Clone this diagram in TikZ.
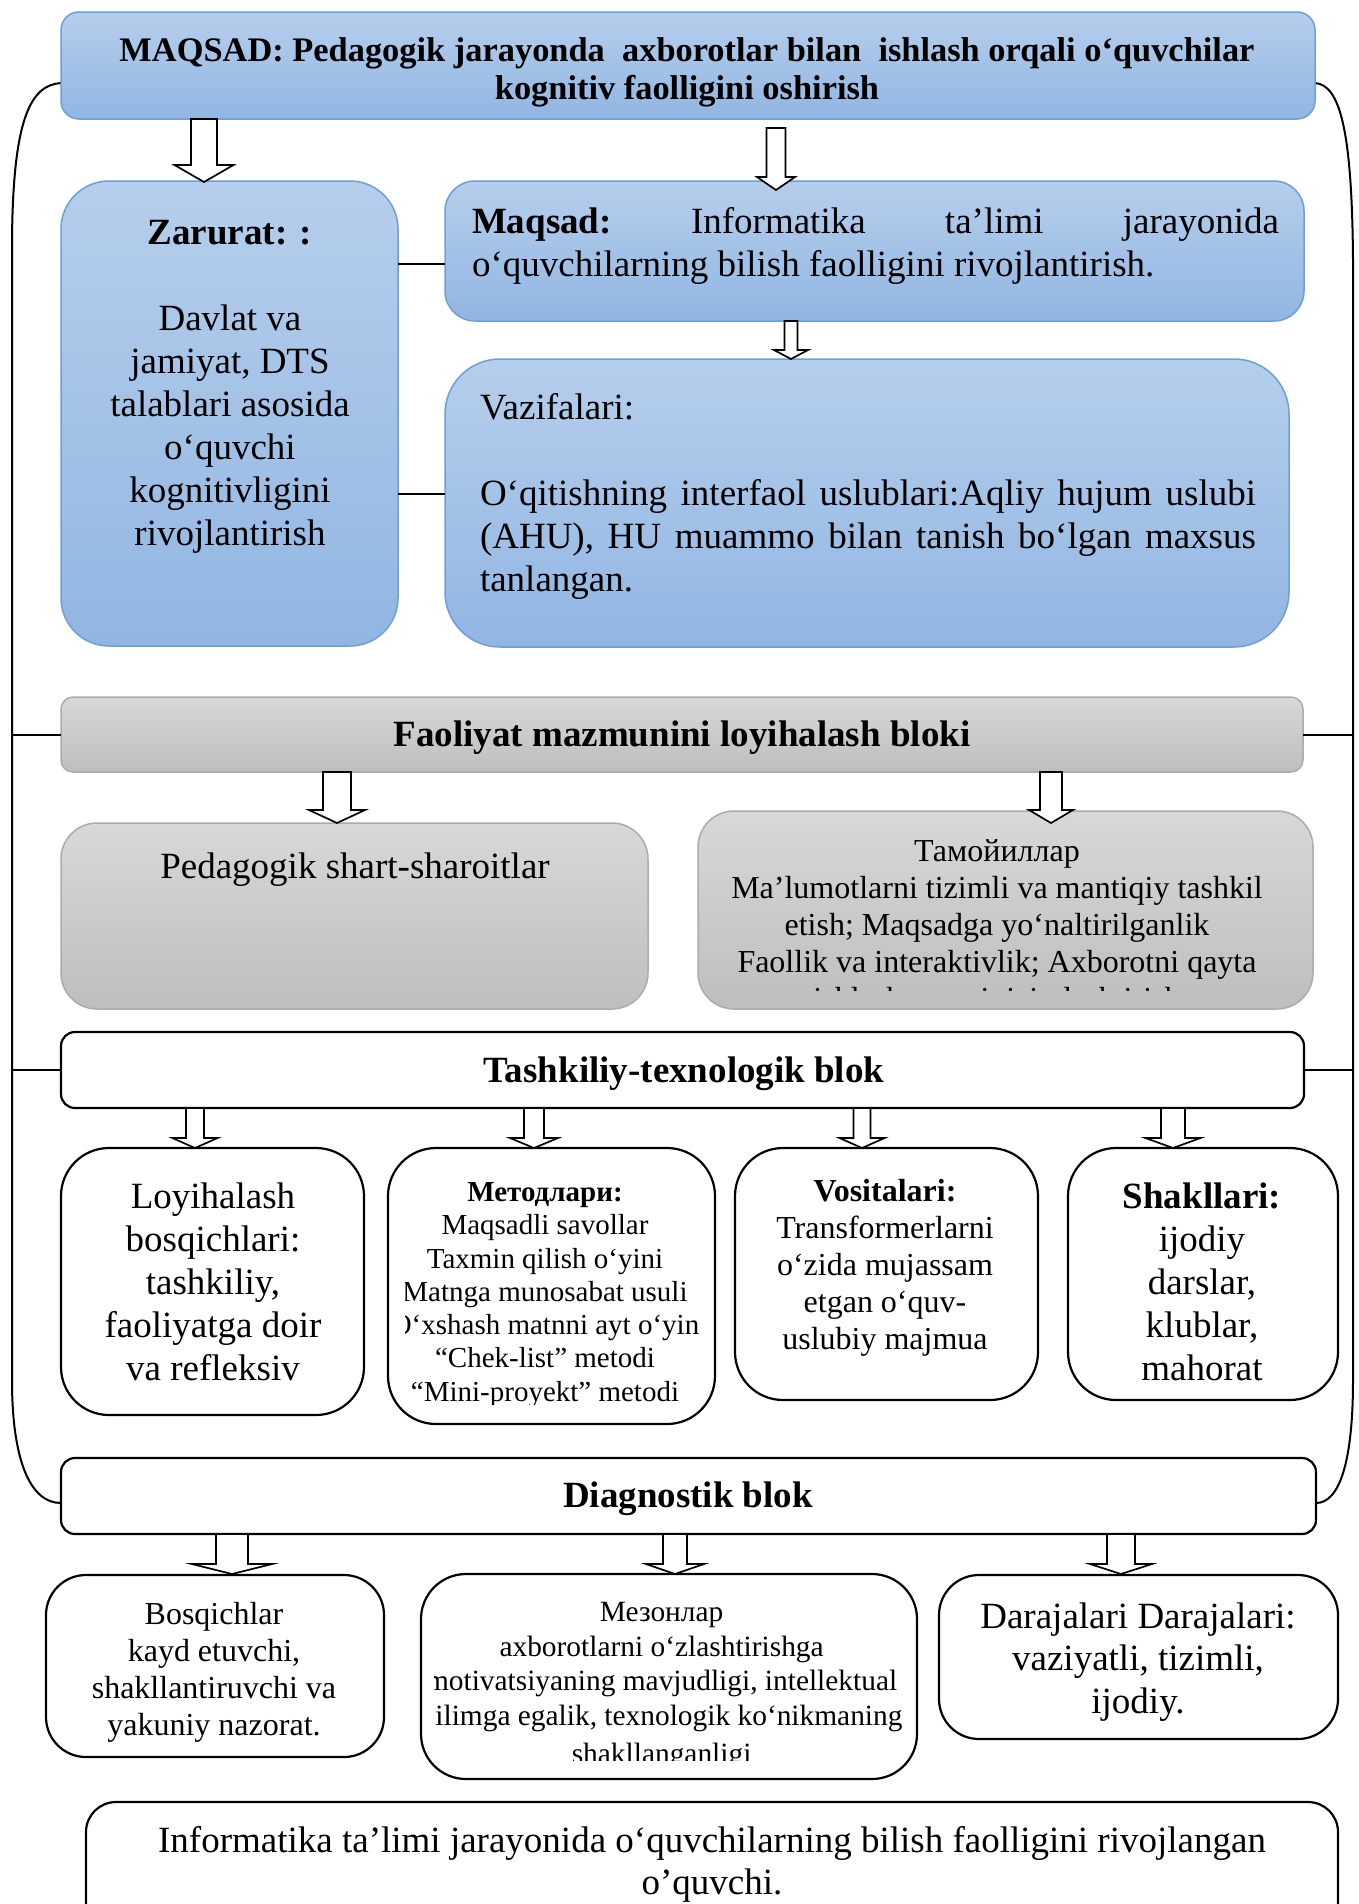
\documentclass[tikz,border=0pt]{standalone}
\usepackage{fontspec}
\setmainfont{Liberation Serif}
\usetikzlibrary{calc}
\definecolor{bluetop}{RGB}{182,206,236}
\definecolor{bluebot}{RGB}{145,182,226}
\definecolor{blueline}{RGB}{108,160,216}
\definecolor{graytop}{RGB}{216,216,216}
\definecolor{graybot}{RGB}{190,190,190}
\definecolor{grayline}{RGB}{172,172,172}
\tikzset{
 box/.style={rectangle, inner sep=0pt, outer sep=0pt},
 bluebox/.style={box, draw=blueline, line width=1.5pt, top color=bluetop, bottom color=bluebot},
 graybox/.style={box, draw=grayline, line width=1.5pt, top color=graytop, bottom color=graybot},
 whitebox/.style={box, draw=black, line width=2.2pt, fill=white},
 txt/.style={inner sep=0pt, outer sep=0pt, align=center},
 ltxt/.style={inner sep=0pt, outer sep=0pt, anchor=base west},
 barrow/.style={draw=black, fill=white, line width=1.7pt, line join=miter},
 frameline/.style={draw=black, line width=2pt},
 conn/.style={draw=black, line width=2.6pt},
}
\newcommand\fs[2]{\fontsize{#1pt}{#2pt}\selectfont}
% box: style, name, x1, y1, x2, y2, radius
\newcommand\mkbox[7]{\node[#1, rounded corners=#7pt, minimum width={#5pt-#3pt}, minimum height={#6pt-#4pt}] (#2) at ({(#3+#5)/2},{(#4+#6)/2}) {};}
% block arrow: cx, y0, yhead, ytip, shaft half, head half
\newcommand\blockarrow[6]{\draw[barrow] ({#1-#5},#2) -- ({#1-#5},#3) -- ({#1-#6},#3) -- (#1,#4) -- ({#1+#6},#3) -- ({#1+#5},#3) -- ({#1+#5},#2) -- cycle;}
\begin{document}
\begin{tikzpicture}[x=1pt,y=-1pt]
\useasboundingbox (0,0) rectangle (1359,1904);
\fill[white] (0,0) rectangle (1359,1904);
\clip (0,0) rectangle (1359,1904);

% outer frame
\coordinate (ftl) at (61,83);
\coordinate (fbl) at (61,1503);
\coordinate (ftr) at (1315,83);
\coordinate (fbr) at (1316,1503);
\coordinate (frL) at (12,0);
\coordinate (frR) at (1353,0);
\draw[frameline] (ftl) .. controls (30,85) and (13,120) .. (12,240) -- (12,1380) .. controls (12,1460) and (30,1503) .. (fbl);
\draw[frameline] (ftr) .. controls (1340,85) and (1352,130) .. (1353,260) -- (1353,1380) .. controls (1353,1460) and (1340,1503) .. (fbr);

% top goal
\mkbox{bluebox}{maq}{61}{12}{1315}{119}{18}
\node[txt, font=\fs{34.4}{38}\bfseries] (maq-t) at (687,72) {MAQSAD: Pedagogik jarayonda~ axborotlar bilan~ ishlash orqali o‘quvchilar\\kognitiv faolligini oshirish};

% Zarurat
\mkbox{bluebox}{zar}{61}{181}{398}{646}{48}
\node[txt, font=\fs{37}{43}] (zar-t) at (230,386.4) {\textbf{Zarurat: :}\\[43pt]Davlat va\\jamiyat, DTS\\talablari asosida\\o‘quvchi\\kognitivligini\\rivojlantirish};

% Maqsad
\mkbox{bluebox}{maqb}{445}{181}{1304}{321}{30}
\node[ltxt, font=\fs{37}{43}] (maqb-l1) at (472,233.2) {\hbox to 807pt{\textbf{Maqsad:}\hfill Informatika\hfill ta’limi\hfill jarayonida}};
\node[ltxt, font=\fs{37}{43}] (maqb-l2) at (472,276.2) {o‘quvchilarning bilish faolligini rivojlantirish.};

% Vazifalari
\mkbox{bluebox}{vaz}{445}{359}{1289}{647}{55}
\node[ltxt, font=\fs{37}{43}] (vaz-l1) at (480,419.2) {Vazifalari:};
\node[ltxt, font=\fs{37}{43}] (vaz-l2) at (480,505.2) {\hbox to 776pt{O‘qitishning\hfill interfaol\hfill uslublari:Aqliy\hfill hujum\hfill uslubi}};
\node[ltxt, font=\fs{37}{43}] (vaz-l3) at (480,548.2) {\hbox to 776pt{(AHU),\hfill HU\hfill muammo\hfill bilan\hfill tanish\hfill bo‘lgan\hfill maxsus}};
\node[ltxt, font=\fs{37}{43}] (vaz-l4) at (480,591.2) {tanlangan.};

\coordinate (c1) at (0,264);
\coordinate (c2) at (0,494);
\draw[conn] (zar.east |- c1) -- (maqb.west |- c1);
\draw[conn] (zar.east |- c2) -- (vaz.west |- c2);

% arrows from top
\blockarrow{204}{119}{165}{182}{13}{29.5}
\blockarrow{776}{128}{177}{190}{9.5}{19}
\blockarrow{791}{321}{350}{359}{6.5}{17}

% Faoliyat block
\mkbox{graybox}{fao}{61}{697}{1303}{772}{12}
\node[txt, font=\fs{37}{43}\bfseries] (fao-t) at (682,737.6) {Faoliyat mazmunini loyihalash bloki};
\draw[frameline] (fao.west -| frL) -- (fao.west);
\draw[frameline] (fao.east) -- (fao.east -| frR);

\mkbox{graybox}{ped}{61}{823}{648}{1009}{36}
\node[txt, font=\fs{37}{43}] (ped-t) at (355,869.6) {Pedagogik shart-sharoitlar};

\mkbox{graybox}{tam}{698}{811}{1313}{1009}{36}
\begin{scope}
\clip (714,811) rectangle (1297,990);
\node[txt, font=\fs{32}{37}] (tam-t) at (997,924.7) {Тамойиллар\\Ma’lumotlarni tizimli va mantiqiy tashkil\\etish; Maqsadga yo‘naltirilganlik\\Faollik va interaktivlik; Axborotni qayta\\ishlash va uni tizimlashtirish};
\end{scope}

\blockarrow{337}{772}{810}{823}{14}{28}
\blockarrow{1051}{772}{810}{823}{11}{22}

% Tashkiliy-texnologik block
\mkbox{whitebox}{tash}{61}{1032}{1304}{1108}{14}
\node[txt, font=\fs{37}{43}\bfseries] (tash-t) at (684,1073.4) {Tashkiliy-texnologik blok};
\draw[frameline] (tash.west -| frL) -- (tash.west);
\draw[frameline] (tash.east) -- (tash.east -| frR);

\mkbox{whitebox}{loy}{61}{1148}{364}{1415}{48}
\node[txt, font=\fs{37}{43}] (loy-t) at (213,1281.6) {Loyihalash\\bosqichlari:\\tashkiliy,\\faoliyatga doir\\va refleksiv};

\mkbox{whitebox}{met}{388}{1148}{715}{1424}{48}
\begin{scope}
\clip (405,1150) rectangle (699,1404);
\node[txt, font=\fs{29}{33.3}] (met-t) at (545,1295) {\textbf{Методлари:}\\Maqsadli savollar\\Taxmin qilish o‘yini\\Matnga munosabat usuli\\O‘xshash matnni ayt o‘yin\\“Chek-list” metodi\\“Mini-proyekt” metodi};
\end{scope}

\mkbox{whitebox}{vos}{735}{1148}{1038}{1400}{48}
\node[txt, font=\fs{32}{37}] (vos-t) at (885,1268.2) {\textbf{Vositalari:}\\Transformerlarni\\o‘zida mujassam\\etgan o‘quv-\\uslubiy majmua};

\mkbox{whitebox}{sha}{1068}{1148}{1338}{1400}{48}
\begin{scope}
\clip (1085,1150) rectangle (1321,1384);
\node[txt, font=\fs{37}{43}] (sha-t) at (1202,1281.6) {\textbf{Shakllari:}\\ijodiy\\darslar,\\klublar,\\mahorat};
\end{scope}

\blockarrow{195}{1108}{1138}{1148}{9}{22.5}
\blockarrow{534}{1108}{1138}{1148}{10}{24}
\blockarrow{862}{1108}{1138}{1148}{8.5}{22.5}
\blockarrow{1173}{1108}{1138}{1148}{12}{27.5}

% Diagnostik block
\mkbox{whitebox}{dia}{61}{1458}{1316}{1534}{14}
\node[txt, font=\fs{37}{43}\bfseries] (dia-t) at (688,1498.6) {Diagnostik blok};

\mkbox{whitebox}{bos}{46}{1575}{384}{1757}{40}
\node[txt, font=\fs{32}{37}] (bos-t) at (214,1672) {Bosqichlar\\kayd etuvchi,\\shakllantiruvchi va\\yakuniy nazorat.};

\mkbox{whitebox}{mez}{421}{1574}{917}{1779}{45}
\begin{scope}
\clip (434,1576) rectangle (905,1760);
\node[txt, font=\fs{29.4}{34.5}] (mez-t) at (661.6,1686) {Мезонлар\\axborotlarni o‘zlashtirishga\\motivatsiyaning mavjudligi, intellektual\\bilimga egalik, texnologik ko‘nikmaning\\[3.5pt]shakllanganligi};
\end{scope}

\mkbox{whitebox}{dar}{939}{1575}{1338}{1739}{40}
\node[txt, font=\fs{37}{42.5}] (dar-t) at (1138,1662) {Darajalari Darajalari:\\vaziyatli, tizimli,\\ijodiy.};

\blockarrow{232}{1534}{1564}{1574}{16}{40}
\blockarrow{675}{1534}{1564}{1574}{12}{29}
\blockarrow{1121}{1534}{1564}{1574}{14}{31}

% result
\mkbox{whitebox}{res}{86}{1802}{1338}{1960}{30}
\node[txt, font=\fs{37}{42}] (res-t) at (712,1864) {Informatika ta’limi jarayonida o‘quvchilarning bilish faolligini rivojlangan\\o’quvchi.};
\end{tikzpicture}
\end{document}
